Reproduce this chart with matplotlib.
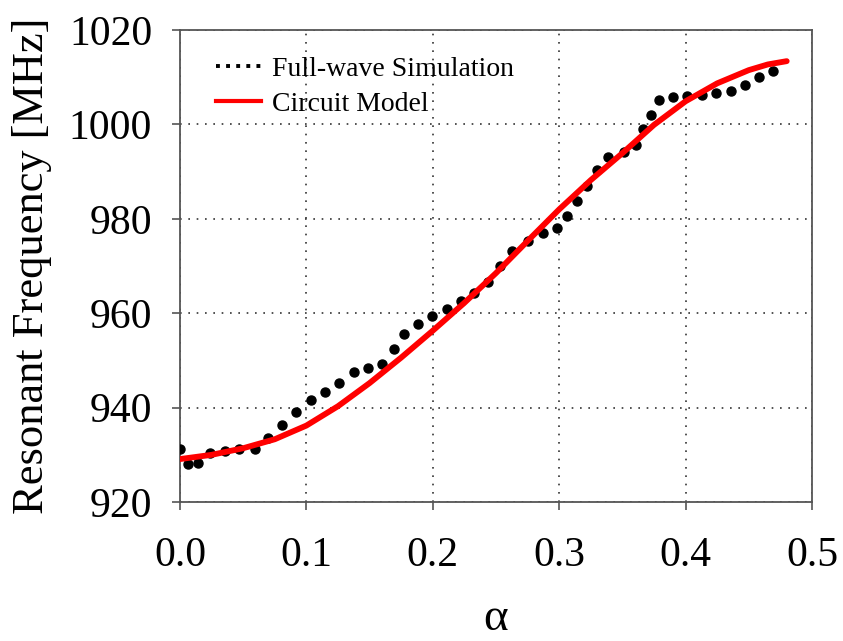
import matplotlib
matplotlib.use("Agg")
import matplotlib.pyplot as plt
from matplotlib.lines import Line2D

plt.rcParams['font.family'] = ['Liberation Serif', 'DejaVu Serif']

# full-wave simulation (dots)
sim_alpha = [0.000, 0.006, 0.014, 0.024, 0.036, 0.047, 0.059, 0.070, 0.081, 0.092,
             0.104, 0.115, 0.126, 0.138, 0.149, 0.160, 0.169, 0.177, 0.188, 0.199,
             0.211, 0.222, 0.233, 0.244, 0.253, 0.263, 0.275, 0.287, 0.298, 0.306,
             0.314, 0.322, 0.330, 0.339, 0.351, 0.361, 0.366, 0.373, 0.379, 0.390,
             0.401, 0.413, 0.424, 0.436, 0.447, 0.458, 0.469]
sim_freq = [931.3, 928.1, 928.3, 930.4, 930.8, 931.3, 931.3, 933.6, 936.3, 939.1,
            941.7, 943.4, 945.3, 947.6, 948.5, 949.3, 952.5, 955.7, 957.8, 959.5,
            960.8, 962.5, 964.2, 966.7, 970.1, 973.1, 975.4, 976.9, 978.0, 980.7,
            983.7, 986.9, 990.3, 993.2, 994.1, 995.6, 999.0, 1002.0, 1005.1, 1005.8,
            1006.0, 1006.2, 1006.6, 1007.0, 1008.3, 1010.0, 1011.3]

# circuit model (red line)
model_alpha = [0.0, 0.025, 0.05, 0.075, 0.1, 0.125, 0.15, 0.175, 0.2, 0.225,
               0.25, 0.275, 0.3, 0.325, 0.35, 0.375, 0.4, 0.425, 0.45, 0.465, 0.48]
model_freq = [929.1, 930.0, 931.4, 933.3, 936.2, 940.3, 945.2, 950.6, 956.3, 962.2,
              968.5, 975.3, 982.0, 988.2, 993.9, 999.9, 1004.9, 1008.7, 1011.5, 1012.7, 1013.4]

xticks = [0.0, 0.1, 0.2, 0.3, 0.4, 0.5]
yticks = [920, 940, 960, 980, 1000, 1020]

fig = plt.figure(figsize=(8.43, 6.41), dpi=100)
ax = fig.add_axes([0.2135, 0.2168, 0.7497, 0.7364])

ax.plot(sim_alpha, sim_freq, ls='none', marker='o', ms=6.5, color='black', zorder=3)
ax.plot(model_alpha, model_freq, color='red', lw=4.2, solid_capstyle='round',
        solid_joinstyle='round', zorder=4)

ax.set_xlim(0, 0.5)
ax.set_ylim(920, 1020)
ax.set_xticks(xticks)
ax.set_xticklabels([f"{t:.1f}" for t in xticks])
ax.set_yticks(yticks)
ax.tick_params(labelsize=30, direction='out', length=6, width=1.2, color='#555555')
ax.tick_params(axis='x', pad=19)
ax.tick_params(axis='y', pad=14)
for s in ax.spines.values():
    s.set_color('#555555')
    s.set_linewidth(1.3)
ax.grid(True, ls=(0, (1, 4)), color='#333333', lw=1.2)

ax.set_ylabel('Resonant Frequency [MHz]', fontsize=32, labelpad=12)
ax.set_xlabel('α', fontsize=34, labelpad=16)

handles = [Line2D([], [], color='black', ls=(0, (1, 1.6)), lw=2.8),
           Line2D([], [], color='red', lw=3)]
ax.legend(handles, ['Full-wave Simulation', 'Circuit Model'], loc='upper left',
          bbox_to_anchor=(0.018, 0.997), frameon=False, fontsize=20,
          handlelength=1.6, handletextpad=0.4, labelspacing=0.35)

fig.savefig('out.png', dpi=100)
